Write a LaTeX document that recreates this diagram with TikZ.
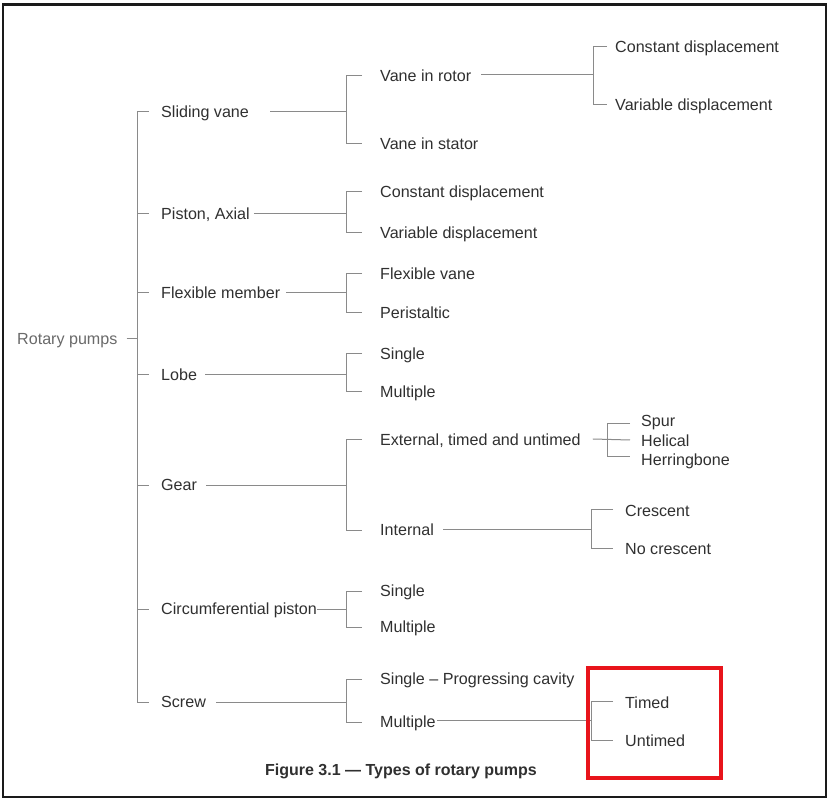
\documentclass[tikz,border=0pt]{standalone}
\usepackage{fontspec}
\setmainfont{Liberation Sans}
\definecolor{txt}{HTML}{303030}
\definecolor{roottxt}{HTML}{6A6A6A}
\definecolor{lin}{HTML}{8A8A8A}
\definecolor{frame}{HTML}{1A1A1A}
\definecolor{hl}{HTML}{E8141B}
\begin{document}
\begin{tikzpicture}[x=1pt,y=-1pt,
  lbl/.style={anchor=west,inner sep=0pt,text height=11.5pt,text depth=0pt,
    font=\fontsize{16.1}{18}\selectfont,text=txt},
  ln/.style={draw=lin,line width=1pt},
  capt/.style={inner sep=0pt,font=\fontsize{16}{18}\selectfont\bfseries,text=txt}]
\useasboundingbox (0,0) rectangle (833,799);
\fill[white] (0,0) rectangle (833,799);
\draw[frame,line width=2.5pt] (3,4.5) rectangle (826,797);

% root
\node[lbl,text=roottxt] (root) at (17,339) {Rotary pumps};
\coordinate (sp) at (137,339);
\coordinate (b2) at (346.5,0);

% level 1
\node[lbl] (sv) at (161,112) {Sliding vane};
\node[lbl] (pa) at (161,214) {Piston, Axial};
\node[lbl] (fm) at (161,293) {Flexible member};
\node[lbl] (lo) at (161,375) {Lobe};
\node[lbl] (ge) at (161,485) {Gear};
\node[lbl] (cp) at (161,609) {Circumferential piston};
\node[lbl] (sc) at (161,702) {Screw};

% level 2
\node[lbl] (vr) at (380,76) {Vane in rotor};
\node[lbl] (vs) at (380,144) {Vane in stator};
\node[lbl] (cd1) at (380,192) {Constant displacement};
\node[lbl] (vd1) at (380,233) {Variable displacement};
\node[lbl] (fv) at (380,274) {Flexible vane};
\node[lbl] (pe) at (380,313) {Peristaltic};
\node[lbl] (ls) at (380,354) {Single};
\node[lbl] (lm) at (380,392) {Multiple};
\node[lbl] (ex) at (380,440) {External, timed and untimed};
\node[lbl] (in) at (380,530) {Internal};
\node[lbl] (cs) at (380,591) {Single};
\node[lbl] (cm) at (380,627) {Multiple};
\node[lbl] (ss) at (380,679) {Single -- Progressing cavity};
\node[lbl] (sm) at (380,722) {Multiple};

% level 3
\node[lbl] (cd2) at (615,47) {Constant displacement};
\node[lbl] (vd2) at (615,105) {Variable displacement};
\node[lbl] (spur) at (641,421) {Spur};
\node[lbl] (hel) at (641,441) {Helical};
\node[lbl] (her) at (641,460) {Herringbone};
\node[lbl] (cre) at (625,511) {Crescent};
\node[lbl] (ncr) at (625,549) {No crescent};
\node[lbl] (tim) at (625,703) {Timed};
\node[lbl] (unt) at (625,741) {Untimed};

% caption
\node[capt] (cap) at (401,771) {Figure 3.1 --- Types of rotary pumps};

% root connector and spine
\draw[ln] ([xshift=9pt]root.east) -- (sp);
\draw[ln] (sp |- sv.west) -- (sp |- sc.west);
\foreach \n in {sv,pa,fm,lo,ge,cp,sc}
  \draw[ln] (sp |- \n.west) -- ([xshift=-12pt]\n.west);

% level 1 -> level 2
\draw[ln] ([xshift=21pt]sv.east) -- (sv.west -| b2);
\draw[ln] ([xshift=4pt]pa.east) -- (pa.west -| b2);
\draw[ln] ([xshift=6pt]fm.east) -- (fm.west -| b2);
\draw[ln] ([xshift=8pt]lo.east) -- (lo.west -| b2);
\draw[ln] ([xshift=9pt]ge.east) -- (ge.west -| b2);
\draw[ln] ([xshift=0pt]cp.east) -- (cp.west -| b2);
\draw[ln] ([xshift=10pt]sc.east) -- (sc.west -| b2);
\foreach \a/\b in {vr/vs,cd1/vd1,fv/pe,ls/lm,ex/in,cs/cm,ss/sm}
  \draw[ln] ([xshift=-18pt]\a.west) -- (\a.west -| b2) -- (\b.west -| b2) -- ([xshift=-18pt]\b.west);

% level 2 -> level 3
\coordinate (b3a) at (593,0);
\draw[ln] ([xshift=10pt,yshift=1pt]vr.east) -- ([yshift=1pt]vr.west -| b3a);
\draw[ln] ([xshift=-8pt]cd2.west) -- (cd2.west -| b3a) -- (vd2.west -| b3a) -- ([xshift=-8pt]vd2.west);

\coordinate (b3b) at (607,0);
\draw[ln] ([xshift=12pt,yshift=1pt]ex.east) -- ([xshift=-11pt,yshift=1pt]hel.west);
\draw[ln] ([xshift=-11pt,yshift=-3pt]spur.west) -- ([yshift=-3pt]spur.west -| b3b) -- ([yshift=3pt]her.west -| b3b) -- ([xshift=-11pt,yshift=3pt]her.west);

\coordinate (b3c) at (591,0);
\draw[ln] ([xshift=9pt,yshift=1pt]in.east) -- ([yshift=1pt]in.west -| b3c);
\draw[ln] ([xshift=-12pt,yshift=2pt]cre.west) -- ([yshift=2pt]cre.west -| b3c) -- ([yshift=1pt]ncr.west -| b3c) -- ([xshift=-12pt,yshift=1pt]ncr.west);

\draw[ln] ([xshift=1pt,yshift=2pt]sm.east) -- ([yshift=2pt]sm.west -| b3c);
\draw[ln] ([xshift=-12pt,yshift=2pt]tim.west) -- ([yshift=2pt]tim.west -| b3c) -- ([yshift=1pt]unt.west -| b3c) -- ([xshift=-12pt,yshift=1pt]unt.west);

% highlight box
\draw[hl,line width=4.5pt] (588,668) rectangle (721,778);
\end{tikzpicture}
\end{document}
